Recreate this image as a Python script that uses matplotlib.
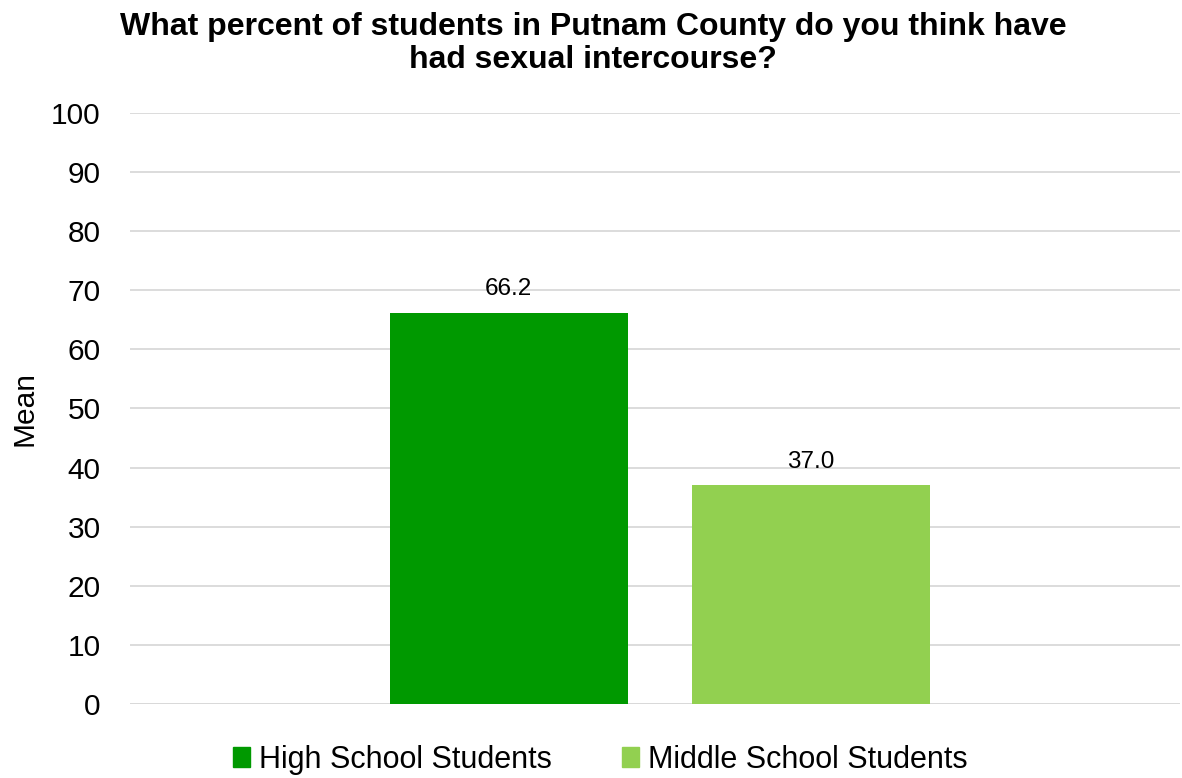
import matplotlib
matplotlib.use("Agg")
import matplotlib.pyplot as plt
import numpy as np

plt.rcParams['font.family'] = ['Liberation Sans', 'DejaVu Sans']

series = ["High School Students", "Middle School Students"]
values = [66.2, 37.0]
colors = ["#009900", "#92d050"]
title = "What percent of students in Putnam County do you think have\nhad sexual intercourse?"
yticks = list(range(0, 101, 10))

fig = plt.figure(figsize=(11.82, 7.78), dpi=100)
ax = fig.add_axes([0.110, 0.0951, 0.888, 0.7597])

offsets = [-0.635, 0.635]
for off, v, c, name in zip(offsets, values, colors, series):
    ax.bar(off, v, width=1.0, color=c, label=name, zorder=3)
    ax.text(off, v + 2.1, f"{v:.1f}", ha='center', va='bottom', fontsize=17.5, color='#000000')

ax.set_xlim(-2.227, 2.185)
ax.set_ylim(0, 100)
ax.set_yticks(yticks)
ax.tick_params(axis='y', labelsize=21.5, length=0, pad=21)
ax.set_xticks([])
ax.grid(axis='y', color='#d9d9d9', linewidth=1.3, zorder=0)
for s in ax.spines.values():
    s.set_visible(False)
ax.axhline(0, color='#d9d9d9', linewidth=1.3, zorder=1)
ax.set_ylabel("Mean", fontsize=21.5, labelpad=9)

fig.suptitle(title, fontsize=23, fontweight='bold', x=0.502, y=0.985, va='top', linespacing=1.15)

handles = [plt.Rectangle((0, 0), 1, 1, color=c) for c in colors]
leg = fig.legend(handles, series, loc='lower center', bbox_to_anchor=(0.508, -0.031), ncol=2,
                 frameon=False, fontsize=22, handlelength=0.55, handleheight=0.6,
                 handletextpad=0.3, columnspacing=2.3)

fig.savefig("out.png", dpi=100)
